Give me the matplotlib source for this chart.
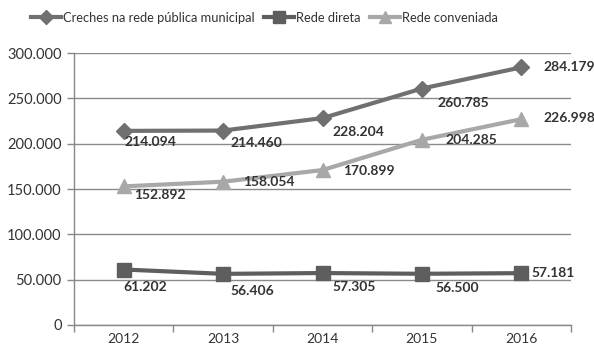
import matplotlib
matplotlib.use("Agg")
import matplotlib.pyplot as plt
import numpy as np

years = ["2012", "2013", "2014", "2015", "2016"]
total = [214094, 214460, 228204, 260785, 284179]
direta = [61202, 56406, 57305, 56500, 57181]
conveniada = [152892, 158054, 170899, 204285, 226998]
labels_total = ["214.094", "214.460", "228.204", "260.785", "284.179"]
labels_direta = ["61.202", "56.406", "57.305", "56.500", "57.181"]
labels_conv = ["152.892", "158.054", "170.899", "204.285", "226.998"]
yticks = [0, 50000, 100000, 150000, 200000, 250000, 300000]
ytick_labels = ["0", "50.000", "100.000", "150.000", "200.000", "250.000", "300.000"]

# label offsets in pixels (dx to left edge, dy downward to center)
off_total = [(1, 11), (7, 12), (10, 14), (16, 14), (22, 0)]
off_direta = [(0, 17), (7, 17), (10, 14), (14, 14), (10, 0)]
off_conv = [(10, 9), (20, 0), (21, 1), (24, 0), (22, -1)]

plt.rcParams['font.family'] = ['Lato', 'DejaVu Sans']

fig = plt.figure(figsize=(5.94, 3.53), dpi=100)
ax = fig.add_axes([74/594, 1-325/353, (571-74)/594, (325-53)/353])

x = np.arange(len(years))
c1, c2, c3 = "#707070", "#5e5e5e", "#a8a8a8"
ax.plot(x, total, color=c1, lw=3, marker="D", ms=8, label="Creches na rede pública municipal", zorder=3)
ax.plot(x, direta, color=c2, lw=3, marker="s", ms=10, label="Rede direta", zorder=3)
ax.plot(x, conveniada, color=c3, lw=3, marker="^", ms=10, label="Rede conveniada", zorder=3)

def put(vals, labs, offs):
    for xi, v, l, (dx, dy) in zip(x, vals, labs, offs):
        ax.annotate(l, (xi, v), xytext=(dx*0.72, -dy*0.72), textcoords="offset points",
                    ha="left", va="center", fontsize=10, fontweight="bold", color="#333333",
                    annotation_clip=False, zorder=4)

put(total, labels_total, off_total)
put(direta, labels_direta, off_direta)
put(conveniada, labels_conv, off_conv)

ax.set_xlim(-0.5, len(years)-0.5)
ax.set_ylim(0, 300000)
ax.set_yticks(yticks)
ax.set_yticklabels(ytick_labels, fontsize=10.5, color="#333333")
ax.set_xticks(x)
ax.set_xticklabels(years, fontsize=10, color="#333333")
ax.set_xticks(np.arange(-0.5, len(years), 1), minor=True)
ax.tick_params(axis="x", which="major", length=0, pad=6)
ax.tick_params(axis="x", which="minor", length=5, color="#888888", width=1)
ax.tick_params(axis="y", length=5, color="#888888", width=1, pad=4)
ax.grid(axis="y", color="#8a8a8a", lw=1, zorder=0)
ax.set_axisbelow(True)
for s in ["top", "right"]:
    ax.spines[s].set_visible(False)
for s in ["left", "bottom"]:
    ax.spines[s].set_color("#888888")
    ax.spines[s].set_linewidth(1)

fig.legend(loc="center", bbox_to_anchor=(0.445, 0.949), ncol=3, frameon=False,
           fontsize=9.3, handlelength=2.3, handletextpad=0.15, columnspacing=0.75,
           labelcolor="#333333", markerscale=0.85)

fig.savefig("out.png", dpi=100)
